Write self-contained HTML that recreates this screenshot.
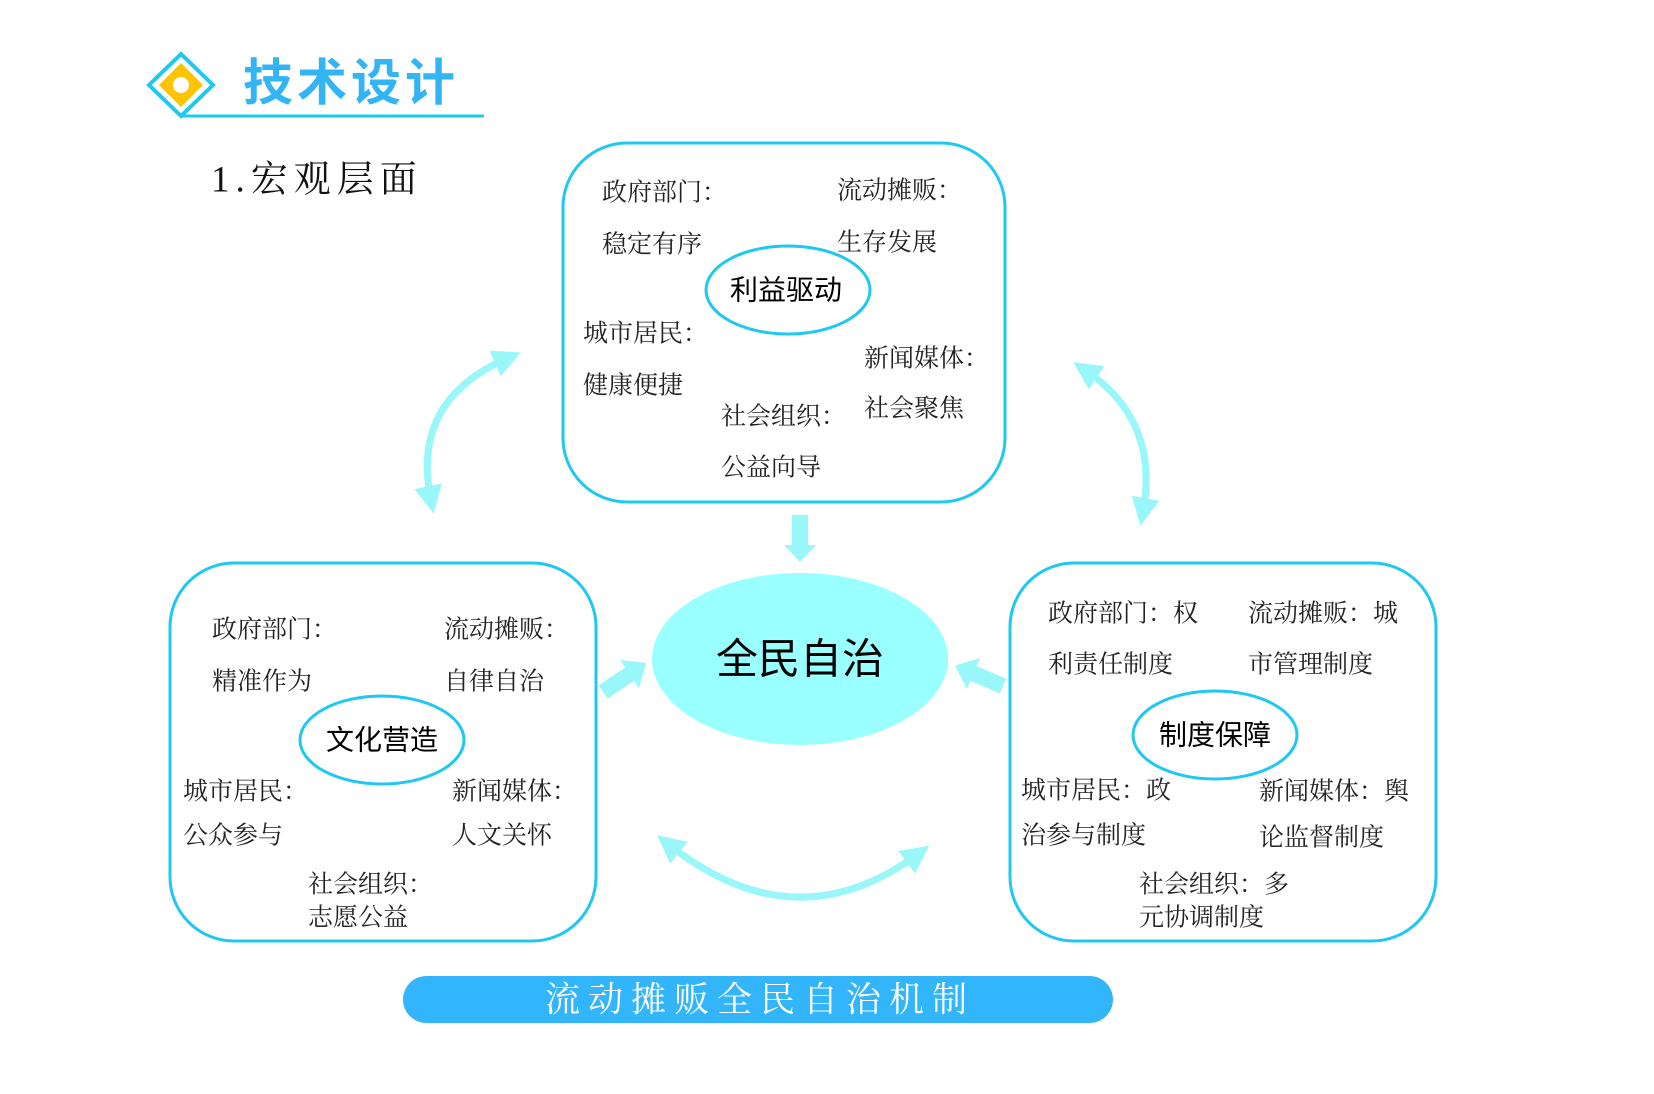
<!DOCTYPE html>
<html><head><meta charset="utf-8"><style>
html,body{margin:0;padding:0;background:#fff;}
svg{display:block;}
.t{font-family:"Liberation Serif","Noto Serif CJK SC",serif;font-size:25px;fill:#222;dominant-baseline:central;}
.e{font-family:"Liberation Sans","Noto Sans CJK SC",sans-serif;font-size:28px;fill:#000;text-anchor:middle;dominant-baseline:central;}
</style></head><body>
<svg width="1654" height="1094" viewBox="0 0 1654 1094" xmlns="http://www.w3.org/2000/svg">
<defs>
<marker id="ah" markerWidth="4" markerHeight="4" refX="2" refY="2" orient="auto-start-reverse" markerUnits="strokeWidth"><path d="M0,0 L4,2 L0,4 Z" fill="#99f7fa"/></marker>
</defs>
<!-- header -->
<polygon points="181,54 213,85 181,116 149,85" fill="#fff" stroke="#1ec8f0" stroke-width="4"/>
<polygon points="181,63 203,85 181,107 159,85" fill="#ffc400"/>
<circle cx="181" cy="85" r="8" fill="#fff"/>
<line x1="181" y1="116" x2="484" y2="116" stroke="#1ec8f0" stroke-width="3"/>
<text x="243" y="83" font-family="Liberation Sans,Noto Sans CJK SC,sans-serif" font-weight="bold" font-size="50" fill="#33b5f5" dominant-baseline="central" letter-spacing="4">技术设计</text>
<text x="211" y="180" font-family="Liberation Serif,Noto Serif CJK SC,serif" font-size="37" fill="#111" dominant-baseline="central" letter-spacing="6">1.宏观层面</text>

<!-- boxes -->
<rect x="563" y="143" width="442" height="359" rx="64" fill="none" stroke="#1ec8f0" stroke-width="3"/>
<rect x="170" y="563" width="426" height="378" rx="64" fill="none" stroke="#1ec8f0" stroke-width="3"/>
<rect x="1010" y="563" width="426" height="378" rx="64" fill="none" stroke="#1ec8f0" stroke-width="3"/>

<!-- top box -->
<ellipse cx="788" cy="290" rx="82" ry="44" fill="#fff" stroke="#1ec8f0" stroke-width="3"/>
<text class="e" x="786" y="290">利益驱动</text>
<text class="t" x="602" y="193">政府部门：</text>
<text class="t" x="602" y="245">稳定有序</text>
<text class="t" x="837" y="191">流动摊贩：</text>
<text class="t" x="837" y="243">生存发展</text>
<text class="t" x="583" y="334">城市居民：</text>
<text class="t" x="583" y="386">健康便捷</text>
<text class="t" x="864" y="359">新闻媒体：</text>
<text class="t" x="864" y="409">社会聚焦</text>
<text class="t" x="721" y="417">社会组织：</text>
<text class="t" x="721" y="468">公益向导</text>

<!-- left box -->
<ellipse cx="382" cy="740" rx="82" ry="44" fill="#fff" stroke="#1ec8f0" stroke-width="3"/>
<text class="e" x="382" y="740">文化营造</text>
<text class="t" x="212" y="630">政府部门：</text>
<text class="t" x="212" y="682">精准作为</text>
<text class="t" x="444" y="630">流动摊贩：</text>
<text class="t" x="444" y="682">自律自治</text>
<text class="t" x="183" y="792">城市居民：</text>
<text class="t" x="183" y="836">公众参与</text>
<text class="t" x="452" y="792">新闻媒体：</text>
<text class="t" x="452" y="836">人文关怀</text>
<text class="t" x="308" y="885">社会组织：</text>
<text class="t" x="308" y="918">志愿公益</text>

<!-- right box -->
<ellipse cx="1215" cy="735" rx="82" ry="44" fill="#fff" stroke="#1ec8f0" stroke-width="3"/>
<text class="e" x="1215" y="735">制度保障</text>
<text class="t" x="1048" y="614">政府部门：权</text>
<text class="t" x="1048" y="665">利责任制度</text>
<text class="t" x="1248" y="614">流动摊贩：城</text>
<text class="t" x="1248" y="665">市管理制度</text>
<text class="t" x="1021" y="791">城市居民：政</text>
<text class="t" x="1021" y="836">治参与制度</text>
<text class="t" x="1259" y="792">新闻媒体：舆</text>
<text class="t" x="1259" y="838">论监督制度</text>
<text class="t" x="1139" y="885">社会组织：多</text>
<text class="t" x="1139" y="918">元协调制度</text>

<!-- center -->
<ellipse cx="800" cy="659" rx="148" ry="86" fill="#99ffff"/>
<text x="800" y="659" font-family="Liberation Sans,Noto Sans CJK SC,sans-serif" font-size="42" fill="#000" text-anchor="middle" dominant-baseline="central">全民自治</text>

<!-- straight arrows -->
<polygon points="792,515 808,515 808,545 816,545 800,562 784,545 792,545" fill="#99f7fa"/>
<g transform="translate(603,692) rotate(-34)">
<polygon points="0,-8 32,-8 32,-17 52,0 32,17 32,8 0,8" fill="#99f7fa"/>
</g>
<g transform="translate(1003,686) rotate(-157)">
<polygon points="0,-8 32,-8 32,-17 52,0 32,17 32,8 0,8" fill="#99f7fa"/>
</g>

<!-- curved arrows -->
<path d="M431,500 Q410,400 508,358" fill="none" stroke="#99f7fa" stroke-width="7" marker-end="url(#ah)" marker-start="url(#ah)"/>
<path d="M1143,512 Q1160,420 1085,370" fill="none" stroke="#99f7fa" stroke-width="7" marker-end="url(#ah)" marker-start="url(#ah)"/>
<path d="M668,844 Q795,945 918,854" fill="none" stroke="#99f7fa" stroke-width="7" marker-end="url(#ah)" marker-start="url(#ah)"/>

<!-- bottom bar -->
<rect x="403" y="976" width="710" height="47" rx="23.5" fill="#33b5fb"/>
<text x="760" y="1000" font-family="Liberation Serif,Noto Serif CJK SC,serif" font-size="35" fill="#fff" text-anchor="middle" dominant-baseline="central" letter-spacing="8">流动摊贩全民自治机制</text>
</svg>
</body></html>
